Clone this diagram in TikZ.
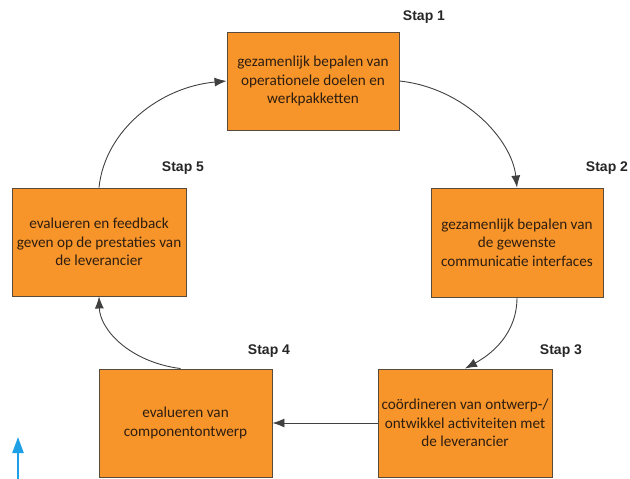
\documentclass[tikz,border=0pt]{standalone}
\usepackage{fontspec}
\setmainfont{Carlito}
\newfontfamily\stapfont{Liberation Sans}
\usetikzlibrary{arrows.meta}
\definecolor{boxfill}{HTML}{F7942A}
\definecolor{boxline}{HTML}{5A4A3A}
\definecolor{txt}{HTML}{2E1E10}
\definecolor{arr}{HTML}{404040}
\definecolor{bluearr}{HTML}{1EA0E6}
\tikzset{
  stepbox/.style={draw=boxline, line width=0.9pt, fill=boxfill, text=txt, align=center,
    font=\fontsize{15.2}{18.5}\selectfont, inner sep=0pt},
  staplabel/.style={font=\stapfont\bfseries\fontsize{14}{16}\selectfont, text=black!85},
  conn/.style={draw=arr, line width=0.9pt, -{Latex[length=12pt,width=9pt]}}
}
\begin{document}
\begin{tikzpicture}[x=1pt,y=-1pt]
\useasboundingbox (0,0) rectangle (630,479);
% boxes
\node[stepbox, minimum width=172pt, minimum height=98pt] (b1) at (313,81) {gezamenlijk bepalen van\\operationele doelen en\\werkpakketten};
\node[stepbox, minimum width=172pt, minimum height=109pt] (b2) at (517,242.5) {gezamenlijk bepalen van\\de gewenste\\communicatie interfaces};
\node[stepbox, minimum width=174pt, minimum height=108pt] (b3) at (465,423) {coördineren van ontwerp-/\\ontwikkel activiteiten met\\de leverancier};
\node[stepbox, minimum width=173pt, minimum height=108pt] (b4) at (185.5,423) {evalueren van\\componentontwerp};
\node[stepbox, minimum width=174pt, minimum height=108pt] (b5) at (99,242) {evalueren en feedback\\geven op de prestaties van\\de leverancier};
% labels
\node[staplabel] (s1) at (424,17) {Stap 1};
\node[staplabel] (s2) at (607,168) {Stap 2};
\node[staplabel] (s3) at (561,351) {Stap 3};
\node[staplabel] (s4) at (269,351) {Stap 4};
\node[staplabel] (s5) at (183,168) {Stap 5};
% connectors
\draw[conn] (b1.east) .. controls (465,88) and (512,140) .. (b2.north);
\draw[conn] (b2.south) .. controls (517,335) and (490,355) .. (b3.north);
\draw[conn] (b3.west) -- (b4.east);
\draw[conn] ([xshift=-5pt]b4.north) .. controls (130,362) and (100,330) .. (b5.south);
\draw[conn] (b5.north) .. controls (105,130) and (160,87) .. (b1.west);
% blue arrow
\coordinate (bA) at (18,479);
\coordinate (bB) at (18,437);
\draw[draw=bluearr, line width=2.2pt, -{Triangle[length=16pt,width=11pt]}] (bA) -- (bB);
\end{tikzpicture}
\end{document}
